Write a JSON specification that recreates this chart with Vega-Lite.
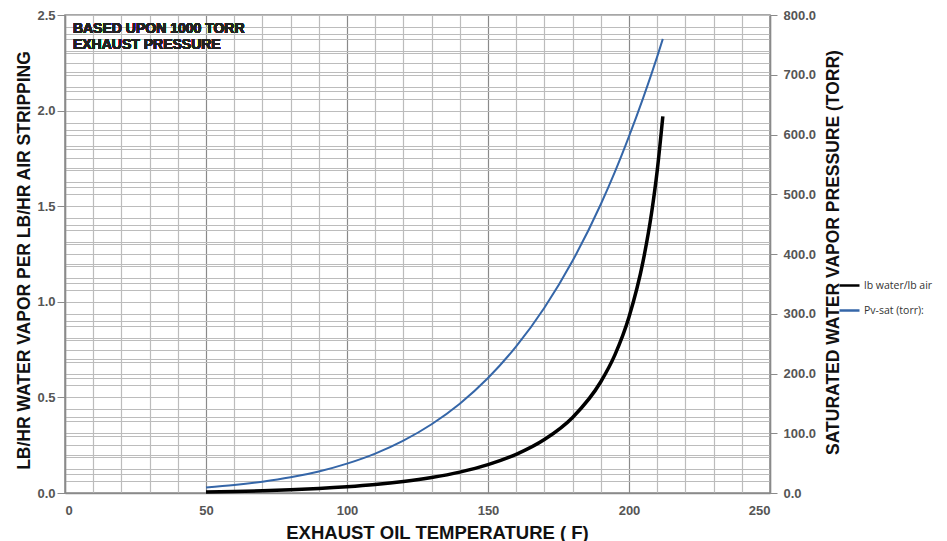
{
  "$schema": "https://vega.github.io/schema/vega-lite/v6.json",
  "width": 705,
  "height": 478,
  "autosize": {"type": "none"},
  "padding": {"left": 65, "top": 15, "right": 177, "bottom": 48},
  "background": "white",
  "config": {
    "view": {"stroke": "#8a8a8a", "strokeWidth": 1.5},
    "axis": {
      "labelFont": "Liberation Sans",
      "labelFontWeight": "bold",
      "labelFontSize": 13,
      "labelColor": "#555555",
      "titleFont": "Liberation Sans",
      "titleFontWeight": "bold",
      "titleFontSize": 17.5,
      "titleColor": "#111111",
      "domainColor": "#8a8a8a",
      "domainWidth": 1.5,
      "tickColor": "#8a8a8a",
      "gridWidth": 1.2
    }
  },
  "data": {
    "values": [
      {"T": 50, "torr": 9.2, "ratio": 0.0058},
      {"T": 60, "torr": 13.3, "ratio": 0.0084},
      {"T": 70, "torr": 18.8, "ratio": 0.0119},
      {"T": 80, "torr": 26.2, "ratio": 0.0167},
      {"T": 90, "torr": 36.1, "ratio": 0.0233},
      {"T": 100, "torr": 49.2, "ratio": 0.0322},
      {"T": 110, "torr": 66.0, "ratio": 0.0439},
      {"T": 120, "torr": 87.7, "ratio": 0.0598},
      {"T": 130, "torr": 115.1, "ratio": 0.0809},
      {"T": 140, "torr": 149.5, "ratio": 0.1093},
      {"T": 150, "torr": 192.4, "ratio": 0.1482},
      {"T": 160, "torr": 245.4, "ratio": 0.2023},
      {"T": 170, "torr": 310.1, "ratio": 0.2796},
      {"T": 180, "torr": 388.6, "ratio": 0.3953},
      {"T": 190, "torr": 483.3, "ratio": 0.5818},
      {"T": 195, "torr": 537.3, "ratio": 0.7223},
      {"T": 200, "torr": 596.7, "ratio": 0.9203},
      {"T": 205, "torr": 660.9, "ratio": 1.2123},
      {"T": 208, "torr": 701.8, "ratio": 1.4639},
      {"T": 210, "torr": 730.4, "ratio": 1.6851},
      {"T": 212, "torr": 760.0, "ratio": 1.9697}
    ]
  },
  "encoding": {
    "x": {
      "field": "T",
      "type": "quantitative",
      "scale": {"domain": [0, 250], "nice": false},
      "axis": {
        "title": "EXHAUST OIL TEMPERATURE ( F)",
        "titleFontSize": 18.5,
        "values": [0,10,20,30,40,50,60,70,80,90,100,110,120,130,140,150,160,170,180,190,200,210,220,230,240,250],
        "labelExpr": "datum.value % 50 === 0 ? datum.label : ''",
        "ticks": false,
        "labelPadding": 11,
        "titlePadding": 6,
        "titleX": 372,
        "grid": true,
        "gridColor": {"condition": {"test": "datum.value % 50 === 0", "value": "#8a8a8a"}, "value": "#bcbcbc"}
      }
    }
  },
  "layer": [
    {
      "mark": {"type": "line", "color": "#000000", "strokeWidth": 3.5, "interpolate": "monotone"},
      "encoding": {
        "y": {
          "field": "ratio",
          "type": "quantitative",
          "scale": {"domain": [0, 2.5], "nice": false},
          "axis": {
            "orient": "left",
            "title": "LB/HR WATER VAPOR PER LB/HR AIR STRIPPING",
            "values": [0,0.1,0.2,0.3,0.4,0.5,0.6,0.7,0.8,0.9,1.0,1.1,1.2,1.3,1.4,1.5,1.6,1.7,1.8,1.9,2.0,2.1,2.2,2.3,2.4,2.5],
            "format": ".1f",
            "labelExpr": "abs(datum.value*2 - round(datum.value*2)) < 0.001 ? datum.label : ''",
            "tickSize": 8,
            "tickOpacity": {"condition": {"test": "abs(datum.value*2 - round(datum.value*2)) < 0.001", "value": 1}, "value": 0},
            "labelPadding": 2,
            "titlePadding": 3,
            "titleY": 245,
            "grid": true,
            "gridColor": {"condition": {"test": "abs(datum.value*2 - round(datum.value*2)) < 0.001", "value": "#8a8a8a"}, "value": "#bcbcbc"}
          }
        },
        "color": {
          "datum": "lb water/lb air",
          "scale": {"domain": ["lb water/lb air", "Pv-sat (torr):"], "range": ["#000000", "#3566a8"]},
          "legend": {
            "orient": "none",
            "legendX": 773,
            "legendY": 259,
            "title": null,
            "symbolType": "stroke",
            "symbolSize": 400,
            "symbolStrokeWidth": 2.5,
            "labelFont": "Open Sans",
            "labelFontSize": 10.5,
            "labelColor": "#333333",
            "labelOffset": 3,
            "rowPadding": 8
          }
        }
      }
    },
    {
      "mark": {"type": "line", "color": "#3566a8", "strokeWidth": 2, "interpolate": "monotone"},
      "encoding": {
        "y": {
          "field": "torr",
          "type": "quantitative",
          "scale": {"domain": [0, 800], "nice": false},
          "axis": {
            "orient": "right",
            "title": "SATURATED WATER VAPOR PRESSURE (TORR)",
            "titleAngle": 270,
            "titleAlign": "center",
            "titleBaseline": "middle",
            "titleX": 63,
            "titleY": 237,
            "values": [0,20,40,60,80,100,120,140,160,180,200,220,240,260,280,300,320,340,360,380,400,420,440,460,480,500,520,540,560,580,600,620,640,660,680,700,720,740,760,780,800],
            "format": ".1f",
            "labelExpr": "datum.value % 100 === 0 ? datum.label : ''",
            "labelAlign": "left",
            "tickSize": 7,
            "tickOpacity": {"condition": {"test": "datum.value % 100 === 0", "value": 1}, "value": 0},
            "labelPadding": 6,
            "grid": true,
            "gridColor": "#bcbcbc"
          }
        },
        "color": {"datum": "Pv-sat (torr):"}
      }
    },
    {
      "mark": {
        "type": "text",
        "align": "left",
        "baseline": "top",
        "font": "Liberation Sans",
        "fontWeight": "bold",
        "fontSize": 14,
        "lineHeight": 16,
        "color": "#222222"
      },
      "encoding": {
        "x": {"datum": 2.8},
        "y": {"datum": 2.465, "scale": {"domain": [0, 2.5], "nice": false}, "axis": null},
        "text": {"value": ["BASED UPON 1000 TORR", "EXHAUST PRESSURE"]}
      }
    }
  ],
  "resolve": {"scale": {"y": "independent"}}
}
